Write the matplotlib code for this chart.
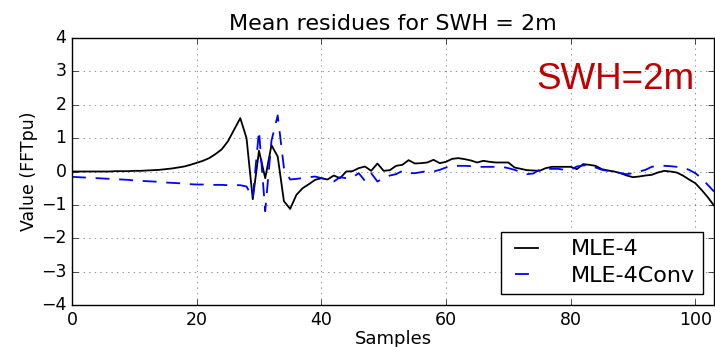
import matplotlib
matplotlib.use('Agg')
import matplotlib.pyplot as plt
import numpy as np

# residuos medios, amostras 0..103
amostras = np.arange(104)

mle4 = [0.0, 0.0, 0.0, 0.0, 0.0, 0.0, 0.0, 0.01, 0.01, 0.01,
        0.02, 0.02, 0.03, 0.04, 0.05, 0.07, 0.09, 0.12, 0.15, 0.2,
        0.26, 0.32, 0.4, 0.52, 0.66, 0.9, 1.25, 1.6, 1.0, -0.83,
        0.62, -0.2, 0.79, 0.45, -0.89, -1.12, -0.7, -0.5, -0.38, -0.25,
        -0.2, -0.24, -0.12, -0.2, 0.0, 0.01, 0.1, 0.15, 0.02, 0.24,
        0.02, 0.04, 0.17, 0.2, 0.34, 0.24, 0.25, 0.27, 0.35, 0.25,
        0.29, 0.38, 0.4, 0.37, 0.33, 0.27, 0.32, 0.29, 0.27, 0.27,
        0.27, 0.12, 0.08, 0.04, 0.03, 0.02, 0.1, 0.14, 0.14, 0.14,
        0.14, 0.07, 0.22, 0.2, 0.17, 0.07, 0.03, 0.0, -0.05, -0.12,
        -0.17, -0.15, -0.12, -0.1, -0.03, 0.02, 0.0, -0.03, -0.12, -0.24,
        -0.35, -0.55, -0.77, -1.02]

mle4conv = [-0.16, -0.17, -0.18, -0.19, -0.2, -0.21, -0.22, -0.23, -0.24, -0.25,
            -0.27, -0.28, -0.29, -0.3, -0.31, -0.33, -0.34, -0.35, -0.36, -0.38,
            -0.39, -0.39, -0.4, -0.4, -0.4, -0.41, -0.41, -0.41, -0.45, -0.79,
            1.22, -1.19, 0.92, 1.68, 0.11, -0.24, -0.22, -0.2, -0.17, -0.15,
            -0.2, -0.24, -0.3, -0.17, -0.2, -0.18, -0.05, -0.28, -0.05, -0.3,
            -0.2, -0.12, -0.08, 0.02, -0.05, -0.05, -0.02, 0.02, 0.0, 0.05,
            0.12, 0.17, 0.17, 0.17, 0.16, 0.14, 0.14, 0.14, 0.14, 0.14,
            0.1, 0.05, -0.02, -0.08, -0.06, 0.05, 0.08, 0.08, 0.08, 0.05,
            0.05, 0.15, 0.18, 0.2, 0.12, 0.05, 0.02, 0.0, -0.05, -0.08,
            -0.05, 0.0, 0.05, 0.14, 0.17, 0.17, 0.16, 0.14, 0.12, 0.05,
            -0.05, -0.2, -0.4, -0.6]

plt.style.use('classic')
fig = plt.figure(figsize=(7.15, 3.47), dpi=100, facecolor='white')
ax = fig.add_axes([0.1007, 0.121, 0.8979, 0.7695])

ax.plot(amostras, mle4, color='black', lw=1.3, label='MLE-4')
ax.plot(amostras, mle4conv, color='blue', lw=1.3, linestyle='--',
        dashes=(10, 7), label='MLE-4Conv')

ax.set_xlim(0, 103)
ax.set_ylim(-4, 4)
ax.set_xticks([0, 20, 40, 60, 80, 100])
ax.set_yticks(range(-4, 5))
ax.tick_params(labelsize=12.5)
ax.grid(True, linestyle=':', color='black', alpha=0.6)

ax.set_title('Mean residues for SWH = 2m', fontsize=16, y=1.005)
ax.set_xlabel('Samples', fontsize=13, labelpad=1)
ax.set_ylabel('Value (FFTpu)', fontsize=12.5, labelpad=2)

leg = ax.legend(loc='lower right', fontsize=16, handlelength=1.6,
                handletextpad=1.2, borderpad=0.35, labelspacing=0.3)

ax.text(0.970, 0.844, 'SWH=2m', transform=ax.transAxes, ha='right', va='center',
        color='#c00000', fontsize=26.5, family='Liberation Sans')

fig.savefig('out.png', dpi=100, facecolor='white')
